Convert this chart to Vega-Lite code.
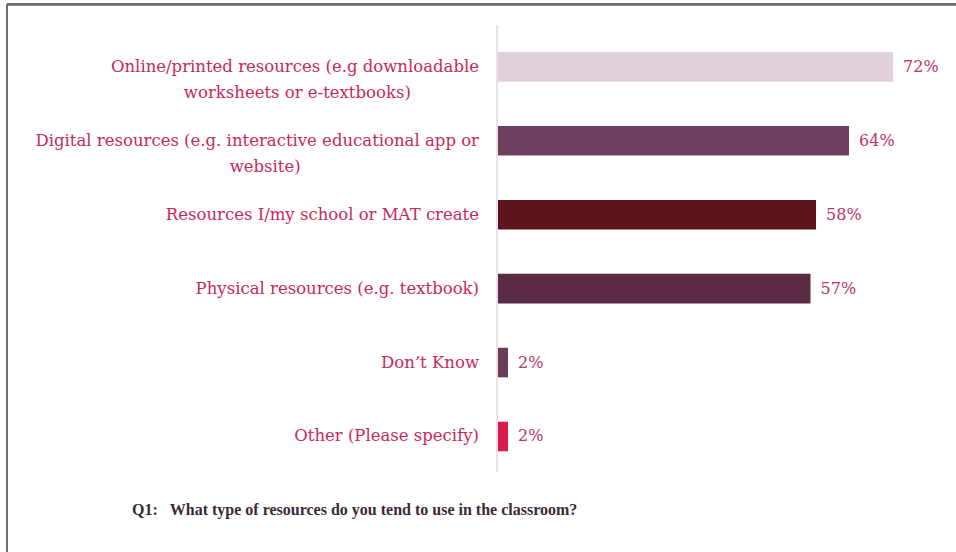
{
  "$schema": "https://vega.github.io/schema/vega-lite/v6.json",
  "width": 949,
  "height": 547,
  "autosize": {"type": "none"},
  "padding": {"left": 7, "top": 5, "right": 0, "bottom": 0},
  "background": "white",
  "config": {
    "view": {"stroke": null},
    "font": "DejaVu Serif"
  },
  "title": {
    "text": "Q1:\u00a0\u00a0\u00a0What type of resources do you tend to use in the classroom?",
    "orient": "bottom",
    "anchor": "start",
    "offset": -52,
    "dx": 126,
    "font": "Liberation Serif",
    "fontSize": 16,
    "fontWeight": "bold",
    "color": "#3a2a36"
  },
  "data": {
    "values": [
      {"id": "online", "label": "Online/printed resources (e.g downloadable\nworksheets or e-textbooks)\u00a0\u00a0\u00a0\u00a0\u00a0\u00a0\u00a0\u00a0\u00a0\u00a0\u00a0\u00a0\u00a0\u2060", "pct": 0.72},
      {"id": "digital", "label": "Digital resources (e.g. interactive educational app or\nwebsite)\u00a0\u00a0\u00a0\u00a0\u00a0\u00a0\u00a0\u00a0\u00a0\u00a0\u00a0\u00a0\u00a0\u00a0\u00a0\u00a0\u00a0\u00a0\u00a0\u00a0\u00a0\u00a0\u00a0\u00a0\u00a0\u00a0\u00a0\u00a0\u00a0\u00a0\u00a0\u00a0\u00a0\u00a0\u2060", "pct": 0.64},
      {"id": "school", "label": "Resources I/my school or MAT create", "pct": 0.58},
      {"id": "physical", "label": "Physical resources (e.g. textbook)", "pct": 0.57},
      {"id": "dontknow", "label": "Don’t Know", "pct": 0.02},
      {"id": "other", "label": "Other (Please specify)", "pct": 0.02}
    ]
  },
  "layer": [
    {
      "mark": {"type": "bar"},
      "encoding": {
        "y": {
          "field": "id",
          "type": "nominal",
          "sort": null,
          "axis": null,
          "scale": {"paddingInner": 0.6, "paddingOuter": 1.026, "align": 0.3186}
        },
        "x": {
          "field": "pct",
          "type": "quantitative",
          "axis": null,
          "scale": {"domain": [-0.8909, 0.8345], "nice": false, "zero": false}
        },
        "color": {
          "field": "id",
          "type": "nominal",
          "legend": null,
          "scale": {
            "domain": ["online", "digital", "school", "physical", "dontknow", "other"],
            "range": ["#dfd0da", "#6e405f", "#5e161c", "#5a2b43", "#6a3c58", "#d81a4c"]
          }
        }
      }
    },
    {
      "mark": {"type": "rule", "color": "#ebe1e7", "strokeWidth": 1.5},
      "encoding": {
        "x": {"datum": 0, "type": "quantitative"},
        "y": {"datum": "online", "type": "nominal", "bandPosition": -0.9},
        "y2": {"datum": "other", "bandPosition": 1.7}
      }
    },
    {
      "mark": {"type": "rule", "color": "#6e6e6e", "strokeWidth": 2},
      "encoding": {
        "x": {"datum": -0.8909, "type": "quantitative"},
        "x2": {"datum": 0.8345},
        "y": {"datum": "online", "type": "nominal", "bandPosition": -1.62}
      }
    },
    {
      "mark": {"type": "rule", "color": "#6e6e6e", "strokeWidth": 2},
      "encoding": {
        "x": {"datum": -0.8909, "type": "quantitative"},
        "y": {"datum": "online", "type": "nominal", "bandPosition": -1.62},
        "y2": {"datum": "other", "bandPosition": 4.45}
      }
    },
    {
      "mark": {"type": "text", "align": "left", "baseline": "middle", "dx": 10, "fontSize": 16, "color": "#b8336a"},
      "encoding": {
        "y": {"field": "id", "type": "nominal", "sort": null},
        "x": {"field": "pct", "type": "quantitative"},
        "text": {"field": "pct", "type": "quantitative", "format": ".0%"}
      }
    },
    {
      "mark": {"type": "text", "align": "right", "baseline": "middle", "dx": -18, "fontSize": 16.5, "lineBreak": "\n", "lineHeight": 26, "color": "#c8285a"},
      "encoding": {
        "y": {"field": "id", "type": "nominal", "sort": null},
        "x": {"datum": 0, "type": "quantitative"},
        "text": {"field": "label", "type": "nominal"}
      }
    }
  ]
}
